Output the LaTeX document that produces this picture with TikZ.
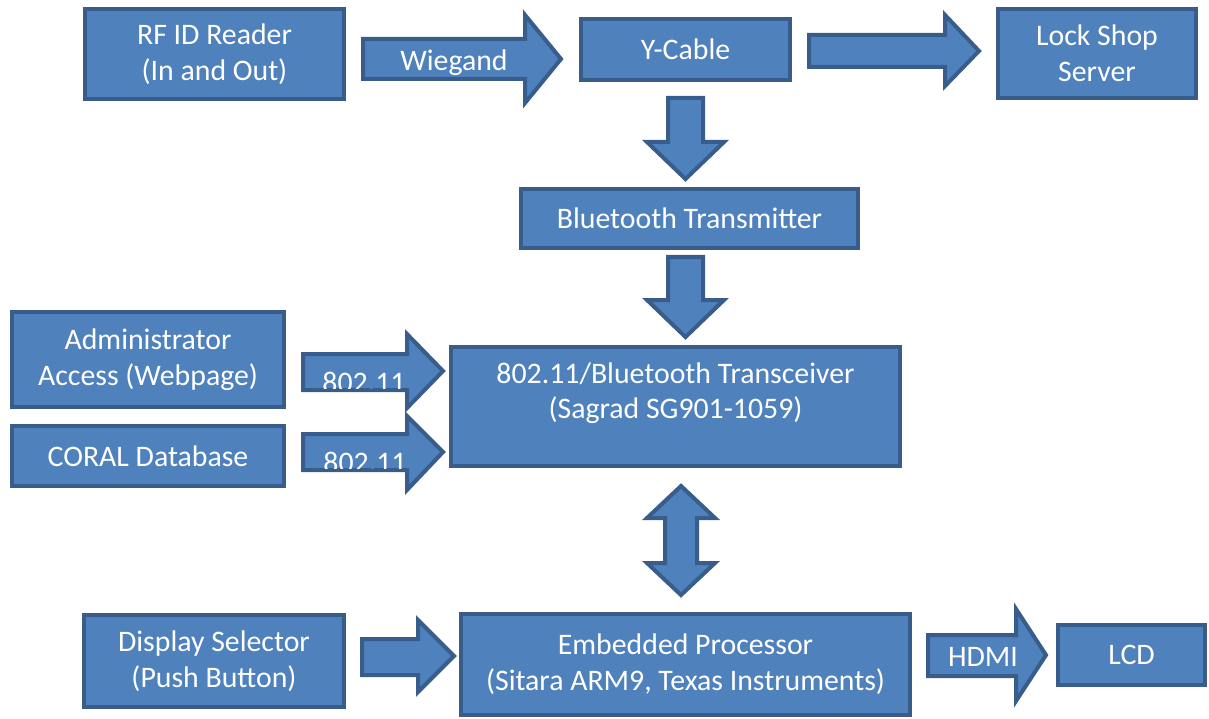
\documentclass[tikz,border=0pt]{standalone}
\usepackage{fontspec}
\setmainfont{Carlito}
\usetikzlibrary{positioning}

\definecolor{shapefill}{HTML}{4F81BD}
\definecolor{shapeline}{HTML}{385D8A}

\tikzset{
  blk/.style={draw=shapeline,fill=shapefill,line width=4pt,text=white,align=center,inner sep=0pt},
  barrow/.style={draw=shapeline,fill=shapefill,line width=4pt,line join=miter},
  lbl/.style={text=white,inner sep=0pt}
}

\begin{document}
\begin{tikzpicture}[x=1pt,y=-1pt,font=\fontsize{29.8}{35.5}\selectfont]
      \useasboundingbox (0,0) rectangle (1209,719);

      % blocks
      \node[blk,minimum width=259,minimum height=90] (rfid) at (214.5,54) {RF ID Reader\\(In and Out)};
      \node[blk,minimum width=209,minimum height=61] (ycab) at (685.5,49.5) {Y-Cable};
      \node[blk,minimum width=198,minimum height=89] (lock) at (1097,53.5) {Lock Shop\\Server};
      \node[blk,minimum width=337,minimum height=59] (bttx) at (689.5,218.5) {Bluetooth Transmitter};
      \node[blk,minimum width=272,minimum height=95] (admin) at (148,359.5) {Administrator\\Access (Webpage)};
      \node[blk,minimum width=272,minimum height=60] (coral) at (148,456) {CORAL Database};
      \node[blk,minimum width=449,minimum height=119] (trx) at (675.5,406.5) {};
      \node[lbl,align=center] (trxtxt) at (675.5,393) {802.11/Bluetooth Transceiver\\(Sagrad SG901-1059)};
      \node[blk,minimum width=260,minimum height=92] (disp) at (214,661) {Display Selector\\(Push Button)};
      \node[blk,minimum width=449,minimum height=101] (emb) at (685.5,664) {Embedded Processor\\(Sitara ARM9, Texas Instruments)};
      \node[blk,minimum width=147,minimum height=60] (lcd) at (1131.5,655) {LCD};

      % block arrows, top row
      \draw[barrow] (363,39) -- (525,39) -- (525,15) -- (561,59) -- (525,103) -- (525,79) -- (363,79) -- cycle;
      \node[lbl,anchor=base] (wieg) at (454,71) {Wiegand};
      \draw[barrow] (809,35) -- (945,35) -- (945,15) -- (979,51) -- (945,86) -- (945,67) -- (809,67) -- cycle;

      % down the middle
      \draw[barrow] (668,98) -- (703,98) -- (703,142) -- (724,142) -- (685.5,179) -- (647,142) -- (668,142) -- cycle;
      \draw[barrow] (668,257) -- (703,257) -- (703,300) -- (724,300) -- (685.5,337) -- (647,300) -- (668,300) -- cycle;
      \draw[barrow] (681,486) -- (715,518) -- (697,518) -- (697,563) -- (715,563) -- (681,595)
                    -- (647,563) -- (665,563) -- (665,518) -- (647,518) -- cycle;

      % 802.11 links
      \draw[barrow] (303,354) -- (407,354) -- (407,334) -- (443,371) -- (407,408) -- (407,390) -- (303,390) -- cycle;
      \draw[barrow] (303,434) -- (407,434) -- (407,416) -- (443,452) -- (407,490) -- (407,470) -- (303,470) -- cycle;
      \begin{scope}
        \clip (305,356) rectangle (405,388);
        \node[lbl,anchor=base] (wlan1) at (364,392) {802.11};
      \end{scope}
      \begin{scope}
        \clip (305,436) rectangle (405,468);
        \node[lbl,anchor=base] (wlan2) at (365,472) {802.11};
      \end{scope}

      % bottom row
      \draw[barrow] (362,639) -- (418,639) -- (418,620) -- (454,656) -- (418,692) -- (418,675) -- (362,675) -- cycle;
      \draw[barrow] (928,635) -- (1016,635) -- (1016,609) -- (1046,655) -- (1016,701) -- (1016,676) -- (928,676) -- cycle;
      \node[lbl,anchor=base] (hdmi) at (983,666) {HDMI};

\end{tikzpicture}
\end{document}
